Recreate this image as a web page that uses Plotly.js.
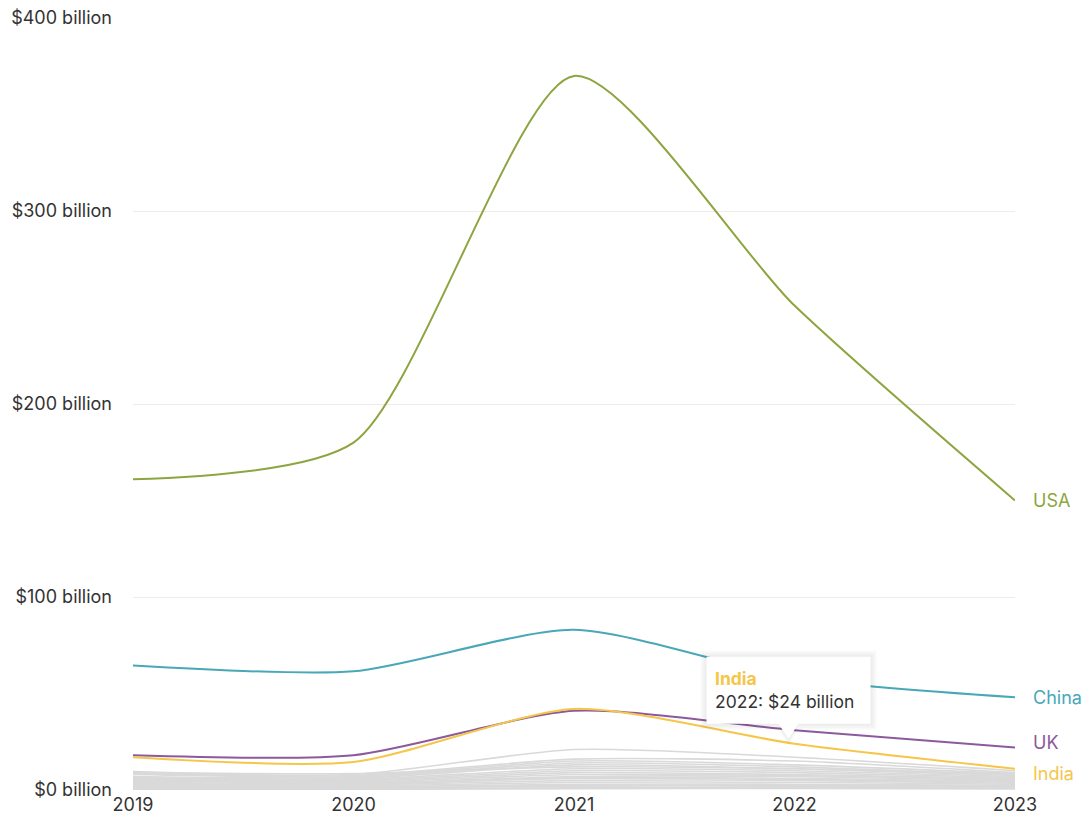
<!DOCTYPE html>
<html>
<head>
<meta charset="utf-8">
<script src="https://cdn.plot.ly/plotly-3.0.1.min.js"></script>
<style>
  html, body { margin: 0; padding: 0; background: #ffffff; }
  #chart { width: 1089px; height: 821px; }
</style>
</head>
<body>
<div id="chart"></div>
<script>
// ---- data ----
const years = [2019, 2020, 2021, 2022, 2023];
const yearLabels = ["2019", "2020", "2021", "2022", "2023"];
const yTickValues = [0, 100, 200, 300, 400];
const yTickLabels = ["$0 billion", "$100 billion", "$200 billion", "$300 billion", "$400 billion"];

const usa   = [161, 180, 370, 251, 150];
const china = [64.5, 61.5, 83, 58, 48];
const uk    = [18, 18, 41, 31, 22];
const india = [17, 14.5, 42, 24, 11];

const otherNames = ["Germany", "France", "Israel", "Canada", "Singapore", "Sweden", "South Korea",
  "Japan", "Brazil", "Indonesia", "Netherlands", "Switzerland", "Australia", "Spain",
  "Estonia", "UAE", "Mexico", "Nigeria", "Ireland", "Finland"];
const otherValues = [
  [9.5, 8, 21, 17, 10],
  [8.5, 7.5, 16, 15, 9],
  [8, 7, 15, 13, 8.5],
  [7, 6.5, 14, 12, 8],
  [6.5, 6, 13, 11, 7.5],
  [6, 5.5, 11, 10, 7],
  [5.5, 5, 10, 9, 6.5],
  [5, 4.5, 9, 8, 6],
  [4.5, 4, 8, 7.5, 5.5],
  [4, 3.5, 7, 7, 5],
  [3.5, 3, 6.5, 6, 4.5],
  [3, 3, 6, 5.5, 4],
  [2.5, 2.5, 5, 5, 3.5],
  [2, 2, 4, 4, 3],
  [1.5, 1.5, 3, 3, 2.5],
  [1.2, 1, 2.5, 2.5, 2],
  [1, 0.8, 2, 2, 1.5],
  [0.6, 0.5, 1.2, 1.3, 1],
  [0.3, 0.3, 0.7, 0.8, 0.6],
  [9, 8.5, 12, 11, 8]
];

const highlight = [
  { name: "USA",   values: usa,   color: "#8da540" },
  { name: "China", values: china, color: "#48a8b8" },
  { name: "UK",    values: uk,    color: "#8c5a9c" },
  { name: "India", values: india, color: "#f5c64a" }
];

const tooltipCountry = "India";
const tooltipYearIndex = 3;

// ---- traces ----
const FONT = "Inter, Liberation Sans, Arial, sans-serif";
const FS = 18;
const SMOOTH = 0.7;
const traces = [];
otherNames.forEach((n, i) => {
  traces.push({
    x: years, y: otherValues[i], name: n, type: "scatter", mode: "lines",
    line: { color: "#d9d9d9", width: 1.6, shape: "spline", smoothing: SMOOTH },
    hoverinfo: "skip", showlegend: false
  });
});
highlight.forEach(h => {
  traces.push({
    x: years, y: h.values, name: h.name, type: "scatter", mode: "lines",
    line: { color: h.color, width: 2, shape: "spline", smoothing: SMOOTH },
    hoverinfo: "skip", showlegend: false
  });
});

// end labels
const labelShift = { USA: 0, China: 0, UK: 5, India: -5 };
const annotations = highlight.map(h => ({
  x: years[years.length - 1], y: h.values[h.values.length - 1],
  xref: "x", yref: "y", text: h.name, showarrow: false,
  xanchor: "left", yanchor: "middle", xshift: 16, yshift: labelShift[h.name],
  font: { family: FONT, size: FS, color: h.color }
}));

// tooltip
const tipSeries = highlight.find(h => h.name === tooltipCountry);
const tipX = years[tooltipYearIndex];
const tipY = tipSeries.values[tooltipYearIndex];
annotations.push({
  x: tipX, y: tipY, xref: "x", yref: "y", showarrow: false,
  xanchor: "left", yanchor: "bottom", xshift: -82, yshift: 30,
  align: "left",
  text: "<b><span style='color:" + tipSeries.color + "'>" + tooltipCountry + "</span></b><br>" +
        yearLabels[tooltipYearIndex] + ": $" + tipY + " billion",
  font: { family: FONT, size: FS - 0.5, color: "#333333" }
});

function calloutPath(pad) {
  const c = -6;
  const l = c - 82 - pad, r = c + 82 + pad, t = 87 + pad, b = 20 - pad;
  return "M" + l + "," + t + " L" + r + "," + t + " L" + r + "," + b +
         " L" + (c + 10) + "," + b + " L" + c + "," + (5 - pad) + " L" + (c - 10) + "," + b +
         " L" + l + "," + b + " Z";
}
const shapes = [];
[6, 4, 2].forEach((p) => {
  shapes.push({
    type: "path", xref: "x", yref: "y", xsizemode: "pixel", ysizemode: "pixel",
    xanchor: tipX, yanchor: tipY, path: calloutPath(p),
    fillcolor: "rgba(0,0,0,0.025)", line: { width: 0 }, layer: "above"
  });
});
shapes.push({
  type: "path", xref: "x", yref: "y", xsizemode: "pixel", ysizemode: "pixel",
  xanchor: tipX, yanchor: tipY, path: calloutPath(0),
  fillcolor: "rgba(255,255,255,1)", line: { width: 0 }, layer: "above"
});

const layout = {
  width: 1089, height: 821,
  margin: { l: 133, r: 74, t: 18, b: 31 },
  paper_bgcolor: "#ffffff", plot_bgcolor: "#ffffff",
  font: { family: FONT, size: FS, color: "#333333" },
  showlegend: false,
  xaxis: {
    range: [2019, 2023], tickvals: years, ticktext: yearLabels,
    showgrid: false, zeroline: false, showline: false, ticks: "",
    tickfont: { family: FONT, size: FS, color: "#333333" },
    ticklabelstandoff: 2, fixedrange: true, automargin: false
  },
  yaxis: {
    range: [0, 400], tickvals: yTickValues, ticktext: yTickLabels,
    showgrid: true, gridcolor: "#ececec", gridwidth: 1,
    zeroline: false, showline: false, ticks: "",
    ticklabelstandoff: 20,
    tickfont: { family: FONT, size: FS, color: "#333333" },
    fixedrange: true, automargin: false
  },
  annotations: annotations,
  shapes: shapes
};

Plotly.newPlot("chart", traces, layout, { displayModeBar: false, staticPlot: true });
</script>
</body>
</html>
